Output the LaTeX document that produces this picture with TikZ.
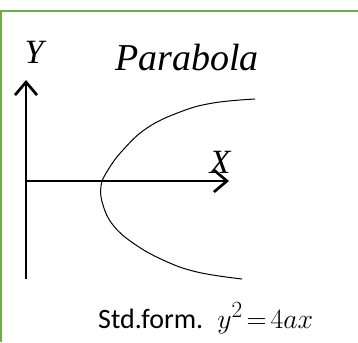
\documentclass[tikz,border=0pt]{standalone}
\usepackage{fontspec}
\setmainfont{Carlito}
\newfontfamily\timesfont{Liberation Serif}
\usetikzlibrary{arrows.meta}
\definecolor{BoxGreen}{RGB}{112,173,71}

\begin{document}
\begin{tikzpicture}[x=1pt, y=-1pt,
	axis/.style={line width=2.7pt, -{Straight Barb[length=13pt,width=22pt]}},
	axislbl/.style={font=\timesfont\itshape\fontsize{34}{38}\selectfont, inner sep=0pt, anchor=base}]
	\useasboundingbox (0,0) rectangle (358,342);
	% frame, only top and left edge visible
	\draw[BoxGreen, line width=2.5pt] (1,342) -- (1,11) -- (358,11);
	
	\coordinate (O) at (26,181);
	\coordinate (Ytip) at (26,80);
	\coordinate (Ybot) at (26,279);
	\coordinate (Xtip) at (229,181);
	
	\draw[line width=2.7pt] (O) -- (Ybot);
	\draw[axis] (O) -- (Ytip);
	\draw[axis] (O) -- (Xtip);
	
	% the curve, opening to the right
	\draw[line width=1pt] plot[smooth, tension=0.7] coordinates {(255,99) (213,103) (180,112) (147,128) (123,150) (108,170) (101,186) (103,205) (113,225) (133,243) (163,260) (197,272) (242,279)};
	
	\node[axislbl] (ylbl) at (34,64) {Y};
	\node[axislbl] (xlbl) at (220,173) {X};
	\node[font=\timesfont\itshape\fontsize{38}{42}\selectfont, inner sep=0pt, anchor=base] (title) at (187,71) {Parabola};
	\node[font=\fontsize{28}{32}\selectfont, inner sep=0pt, anchor=base west] (stdform) at (98,328) {Std.form.\hspace{14pt}\scalebox{1.12}{$\thickmuskip=2.5mu y^2=4ax$}};
\end{tikzpicture}
\end{document}
